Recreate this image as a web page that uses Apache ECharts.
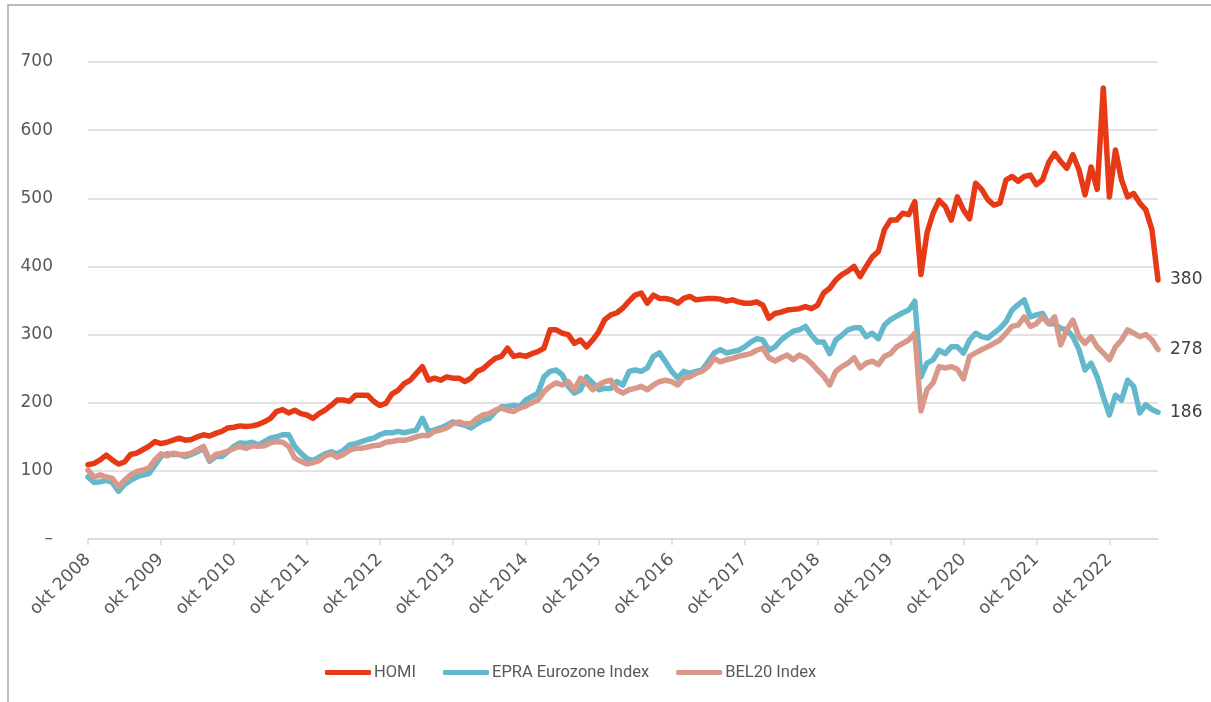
<!DOCTYPE html>
<html>
<head>
<meta charset="utf-8">
<script src="https://cdn.jsdelivr.net/npm/echarts@6/dist/echarts.min.js"></script>
<style>
html,body{margin:0;padding:0;background:#fff;}
#chart{width:1211px;height:702px;}
</style>
</head>
<body>
<div id="chart"></div>
<script>
// Month names (Dutch) and start of the monthly series (okt 2008 .. jun 2023)
const monthNames = ['jan','feb','mrt','apr','mei','jun','jul','aug','sep','okt','nov','dec'];
const startYear = 2008, startMonth = 9, monthCount = 177;
const categories = [];
for (let i = 0; i < monthCount; i++) {
  const mi = (startMonth + i) % 12;
  const yr = startYear + Math.floor((startMonth + i) / 12);
  categories.push(monthNames[mi] + ' ' + yr);
}

const yTicks = [0, 100, 200, 300, 400, 500, 600, 700];

const homi = [
  109,111,116,123,116,110,113,124,126,131,136,143,
  140,142,145,148,145,146,150,153,151,155,158,163,
  164,166,165,166,168,172,177,187,190,185,189,184,
  182,177,184,189,196,204,204,202,211,211,211,202,
  196,199,213,218,228,233,243,253,233,236,233,238,
  236,236,231,236,246,250,258,265,268,280,268,270,
  268,272,275,280,307,307,302,300,287,292,282,292,
  304,322,329,332,339,349,358,361,346,358,353,353,
  351,346,353,356,351,352,353,353,352,349,351,348,
  346,346,348,343,324,331,333,336,337,338,341,338,
  343,361,368,380,388,393,400,385,400,414,422,454,
  468,468,478,476,495,388,449,478,497,488,468,502,
  483,470,522,513,498,490,493,527,532,525,532,534,
  520,527,552,566,554,544,564,542,505,546,513,662,
  502,571,527,502,507,493,483,454,380
];

const epra = [
  91,83,84,86,83,70,80,86,91,94,96,108,
  121,125,124,124,121,124,128,133,114,121,121,128,
  136,141,140,142,138,143,148,150,153,153,136,126,
  118,115,120,125,128,125,130,138,140,143,146,148,
  153,156,156,158,156,158,160,177,158,160,163,167,
  172,169,167,163,169,174,177,187,194,194,196,194,
  204,209,214,238,246,248,241,224,214,219,238,229,
  219,221,221,231,226,246,248,246,251,268,273,260,
  246,236,246,243,246,248,260,273,278,273,275,277,
  282,289,294,292,277,282,292,299,305,307,312,299,
  289,289,272,292,299,307,310,310,297,302,294,314,
  322,327,332,336,349,238,258,263,277,272,282,282,
  273,292,302,297,295,302,309,319,336,344,351,326,
  329,331,316,316,309,307,297,278,248,258,238,209,
  182,211,204,233,224,185,197,190,186
];

const bel20 = [
  101,91,94,91,89,77,86,94,99,101,104,116,
  125,122,126,124,124,126,131,136,116,124,126,129,
  133,136,133,137,136,137,141,143,142,136,119,114,
  110,112,115,122,125,120,124,130,133,133,135,137,
  138,142,143,145,145,147,150,152,152,158,160,163,
  169,172,169,169,177,182,184,189,192,189,187,192,
  195,200,204,216,224,229,226,231,219,236,229,219,
  226,231,233,219,214,219,221,224,219,226,231,233,
  231,226,236,238,243,246,253,265,260,263,265,268,
  270,272,277,280,266,261,266,270,263,270,266,258,
  248,239,226,246,253,258,266,251,258,261,256,268,
  272,282,287,292,302,188,219,229,253,251,253,249,
  235,268,273,278,282,287,292,302,312,314,326,312,
  316,326,316,326,285,307,321,297,287,297,282,273,
  263,282,292,307,302,297,300,292,278
];

const seriesNames = ['HOMI', 'EPRA Eurozone Index', 'BEL20 Index'];
const colors = ['#e63a17', '#63b8cc', '#d9998a'];

const chart = echarts.init(document.getElementById('chart'), null, {renderer: 'canvas'});

function mkSeries(name, data, color) {
  return {
    name: name,
    type: 'line',
    data: data,
    symbol: 'none',
    smooth: false,
    lineStyle: {color: color, width: 5.5, cap: 'round', join: 'round'},
    itemStyle: {color: color},
    endLabel: {
      show: true,
      formatter: p => String(p.value),
      color: '#404040',
      fontSize: 17,
      fontFamily: 'DejaVu Sans',
      distance: 12
    },
    emphasis: {disabled: true}
  };
}

chart.setOption({
  animation: false,
  backgroundColor: '#ffffff',
  color: colors,
  graphic: [{
    type: 'rect',
    shape: {x: 8, y: 5, width: 1300, height: 800},
    style: {fill: 'none', stroke: '#a6a6a6', lineWidth: 1.5},
    silent: true
  }],
  grid: {left: 88, right: 53, top: 62, bottom: 163, containLabel: false},
  legend: {
    data: seriesNames,
    left: 320,
    top: 659,
    icon: 'roundRect',
    itemWidth: 46,
    itemHeight: 5,
    itemGap: 27,
    textStyle: {color: '#595959', fontSize: 16.5, fontFamily: 'Roboto', padding: [0, 0, 0, -2]}
  },
  xAxis: {
    type: 'category',
    data: categories,
    boundaryGap: false,
    axisLine: {lineStyle: {color: '#d9d9d9', width: 1.5}},
    axisTick: {show: true, interval: 11, length: 6, lineStyle: {color: '#d9d9d9', width: 1.5}},
    axisLabel: {
      interval: 11,
      rotate: 45,
      color: '#595959',
      fontSize: 17.5,
      fontFamily: 'DejaVu Sans',
      margin: 18
    },
    splitLine: {show: false}
  },
  yAxis: {
    type: 'value',
    min: yTicks[0],
    max: yTicks[yTicks.length - 1],
    interval: 100,
    axisLine: {show: false},
    axisTick: {show: false},
    axisLabel: {
      color: '#595959',
      fontSize: 17,
      fontFamily: 'DejaVu Sans',
      margin: 35,
      formatter: v => (v === 0 ? '\u2013' : String(v))
    },
    splitLine: {lineStyle: {color: '#d9d9d9', width: 1.5}}
  },
  series: [
    mkSeries(seriesNames[0], homi, colors[0]),
    mkSeries(seriesNames[1], epra, colors[1]),
    mkSeries(seriesNames[2], bel20, colors[2])
  ]
});
</script>
</body>
</html>
